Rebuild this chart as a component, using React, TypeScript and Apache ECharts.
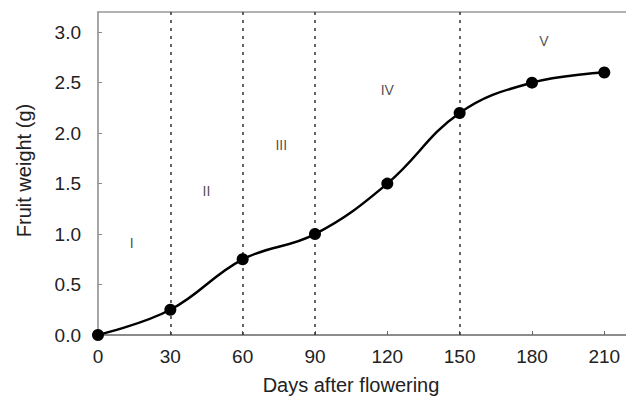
import React, { useEffect, useRef } from "react";
import * as echarts from "echarts";

const days = [0, 30, 60, 90, 120, 150, 180, 210];
const weight = [0, 0.25, 0.75, 1.0, 1.5, 2.2, 2.5, 2.6];
const stageBounds = [30, 60, 90, 150];
const stageNames = ["I", "II", "III", "IV", "V"];
const stageX = [14, 45, 76, 120, 185];
const stageY = [0.91, 1.43, 1.88, 2.43, 2.91];

export default function App() {
  const ref = useRef<HTMLDivElement>(null);
  useEffect(() => {
    document.body.style.margin = "0";
    const chart = echarts.init(ref.current!, undefined, { renderer: "svg" });
    const font = "Arial, 'Liberation Sans', sans-serif";
    chart.setOption({
      animation: false,
      grid: {
        left: 98,
        right: 0,
        top: 12,
        bottom: 70,
      },
      xAxis: [
        {
          type: "value",
          min: 0,
          max: 219,
          interval: 30,
          name: "Days after flowering",
          nameLocation: "middle",
          nameGap: 40,
          nameTextStyle: {
            fontFamily: font,
            fontSize: 20,
            color: "#222",
            padding: [0, 22, 0, 0],
          },
          axisLine: { show: true, lineStyle: { color: "#666", width: 1.5 } },
          axisTick: { show: true, inside: true, length: 4, lineStyle: { color: "#666" } },
          axisLabel: {
            fontFamily: font,
            fontSize: 19,
            color: "#222",
            margin: 12,
            showMaxLabel: false,
          },
          splitLine: { show: false },
        },
        {
          type: "value",
          position: "top",
          min: 0,
          max: 219,
          interval: 30,
          axisLine: { show: true, lineStyle: { color: "#999", width: 1.5 } },
          axisTick: { show: false },
          axisLabel: { show: false },
          splitLine: { show: false },
        },
      ],
      yAxis: {
        type: "value",
        min: 0,
        max: 3.2,
        interval: 0.5,
        name: "Fruit weight (g)",
        nameLocation: "middle",
        nameGap: 64,
        nameTextStyle: {
          fontFamily: font,
          fontSize: 20,
          color: "#222",
          padding: [0, 0, 0, 6],
        },
        axisLine: { show: true, lineStyle: { color: "#888", width: 1.5 } },
        axisTick: { show: true, inside: true, length: 4, lineStyle: { color: "#888" } },
        axisLabel: {
          fontFamily: font,
          fontSize: 19,
          color: "#222",
          margin: 17,
          showMaxLabel: false,
          formatter: (v: number) => v.toFixed(1),
        },
        splitLine: { show: false },
      },
      series: [
        {
          type: "line",
          data: days.map((d, i) => [d, weight[i]]),
          smooth: 0.4,
          symbol: "circle",
          symbolSize: 12,
          itemStyle: { color: "#000" },
          lineStyle: { color: "#000", width: 2.5 },
          z: 5,
          markLine: {
            silent: true,
            symbol: ["none", "none"],
            label: { show: false },
            lineStyle: { color: "#333", type: [3, 5], width: 1.5 },
            data: stageBounds.map((b) => ({ xAxis: b })),
          },
        },
        {
          type: "scatter",
          symbolSize: 0,
          silent: true,
          itemStyle: { color: "#222" },
          data: stageNames.map((n, i) => ({ name: n, value: [stageX[i], stageY[i]] })),
          label: {
            show: true,
            position: "inside",
            formatter: "{b}",
            fontFamily: font,
            fontSize: 14,
            color: "#222",
            textBorderWidth: 0,
          },
        },
      ],
    });
    return () => chart.dispose();
  }, []);
  return <div ref={ref} style={{ width: 626, height: 405 }} />;
}
